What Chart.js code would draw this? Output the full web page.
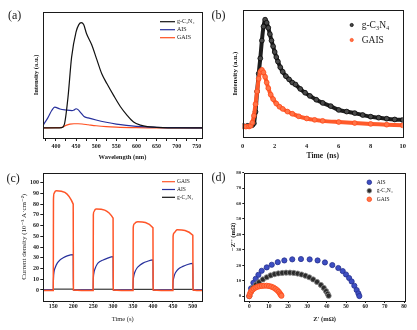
<!DOCTYPE html>
<html>
<head>
<meta charset="utf-8">
<script src="https://cdn.jsdelivr.net/npm/chart.js@4.4.0/dist/chart.umd.min.js"></script>
<style>
  html, body { margin: 0; padding: 0; background: #fff; }
  #wrap { position: relative; width: 417px; height: 330px; overflow: hidden; }
  canvas { position: absolute; left: 0; top: 0; }
</style>
</head>
<body>
<div id="wrap">
  <canvas id="chartA" width="417" height="330"></canvas>
  <canvas id="chartB" width="417" height="330"></canvas>
  <canvas id="chartC" width="417" height="330"></canvas>
  <canvas id="chartD" width="417" height="330"></canvas>
</div>
<script>
// (a) PL spectra: wavelength (nm) / intensity (a.u.)
const wlGCN = [370, 400, 415, 422, 430, 439, 450, 457, 463, 469, 476, 489, 502, 514, 527, 543, 560, 577, 593, 610, 627, 650, 700, 763];
const plGCN = [8, 8, 8.3, 12, 32, 64, 84, 90, 91.5, 90, 83, 74, 62, 51, 43, 34, 25, 18, 12.7, 10.2, 9, 8.5, 8, 8];
const wlAIS = [368, 380, 390, 397, 410, 425, 440, 445, 450, 455, 462, 470, 480, 500, 525, 550, 575, 600, 650, 700, 763];
const plAIS = [10, 16, 22, 24.5, 23, 22.2, 21.7, 22.2, 23.2, 22.5, 20, 17, 16, 14.3, 12.5, 11, 10, 9.3, 8.5, 8.2, 8];
const wlGAIS = [368, 400, 415, 425, 435, 445, 455, 465, 480, 500, 525, 550, 600, 650, 763];
const plGAIS = [8, 8.2, 8.5, 10, 11, 11.3, 11.3, 11.1, 10.5, 9.7, 9, 8.6, 8.2, 8, 8];
const wlTicks = [400, 450, 500, 550, 600, 650, 700, 750];
const wlMinor = [375, 425, 475, 525, 575, 625, 675, 725];

// (b) TRPL decay: time (ns) / intensity (a.u.)
const tGCN = [0, 0.3, 0.6, 0.7, 0.8, 0.9, 1.0, 1.1, 1.2, 1.3, 1.4, 1.5, 1.6, 1.7, 1.8, 1.9, 2.0, 2.1, 2.2, 2.35, 2.5, 2.7, 2.9, 3.1, 3.3, 3.6, 3.9, 4.2, 4.6, 5.0, 5.5, 6.0, 6.5, 7.0, 7.5, 8.0, 8.5, 9.0, 9.5, 10];
const trGCN = [9, 9, 9.5, 11, 20, 36, 50, 62, 76, 87, 92.4, 90, 86, 81, 76, 71.5, 67, 63, 59.5, 55, 51.5, 48, 45.5, 43, 41.5, 38, 35, 32.5, 29.5, 27, 24.5, 21.5, 20.2, 19, 17.5, 16.2, 15.4, 14.6, 14, 13.6];
const tGAIS = [0, 0.2, 0.4, 0.5, 0.6, 0.7, 0.8, 0.9, 1.0, 1.1, 1.2, 1.3, 1.4, 1.5, 1.6, 1.75, 1.9, 2.1, 2.3, 2.5, 2.8, 3.1, 3.5, 4.0, 4.5, 5.0, 6.0, 7.0, 8.0, 9.0, 10];
const trGAIS = [8.4, 8.4, 8.5, 9, 11.5, 17, 26, 36, 46, 51.5, 53, 51, 47.5, 43, 38.6, 33.5, 30, 26.5, 24, 22.3, 20.2, 18.5, 16.5, 14.8, 13.7, 12.9, 12, 11.2, 10.5, 9.9, 9.4];
const nsTicks = [0, 2, 4, 6, 8, 10];

// (c) photocurrent: time (s) / current density
const sGAIS = [125, 150, 150.5, 152, 155, 158, 200, 200.5, 250, 250.5, 252, 255, 258, 300, 300.5, 350, 350.5, 353, 357, 362, 400, 400.5, 450, 450.5, 453, 457, 461, 500, 500.5, 523];
const jGAIS = [-0.5, -0.5, 84, 90, 92, 92.5, 80, 0, -0.5, 70, 73, 75, 75.5, 67, 0, -0.5, 58, 61.5, 63, 63.5, 58, 0, -0.5, 50, 53, 55, 56, 51, 0, -0.5];
const sAIS = [125, 150, 150.5, 152, 155, 160, 167, 175, 185, 200, 200.5, 250, 250.5, 252, 255, 260, 267, 275, 285, 300, 300.5, 350, 350.5, 352, 355, 360, 367, 375, 385, 400, 400.5, 450, 450.5, 452, 455, 460, 467, 475, 485, 500, 500.5, 523];
const jAIS = [0, 0, 10, 17, 21, 25, 28, 30, 31.8, 33, 0, 0, 10, 16, 20, 24, 26.5, 28, 29.5, 31, 0, 0, 8, 13, 17, 20.5, 23, 25, 26.5, 28, 0, 0, 7, 11, 15, 18, 20.5, 22, 23.5, 24.8, 0, 0];
const sGCN = [125, 150, 150.5, 200, 200.5, 250, 250.5, 300, 300.5, 350, 350.5, 400, 400.5, 450, 450.5, 500, 500.5, 523];
const jGCN = [0, 0, 0.8, 0.8, 0, 0, 0.7, 0.7, 0, 0, 0.6, 0.6, 0, 0, 0.6, 0.6, 0, 0];
const secTicks = [150, 200, 250, 300, 350, 400, 450, 500];
const jTicks = [0, 10, 20, 30, 40, 50, 60, 70, 80, 90, 100];

// (d) Nyquist: Z' / -Z'' (mOhm)
const zrAIS = [0, 0.9, 2.1, 3.3, 4.7, 6.4, 9, 11.6, 14.7, 18.1, 22.2, 26.7, 31.2, 35.3, 39.1, 42.9, 46, 48.3, 50, 51.6, 52.9, 54.3, 55.5, 56.4, 56.9];
const ziAIS = [0, 5, 8.6, 11.2, 13.8, 16.4, 18.6, 20.3, 22, 23.1, 23.8, 24, 23.8, 23.1, 21.8, 20.1, 18.2, 16.2, 14, 11.7, 9.5, 6.7, 3.9, 1.7, 0];
const zrGCN = [0, 1, 2, 3.5, 5, 7, 9, 11, 13, 15, 17, 19, 21, 23, 25, 27, 29, 31, 33, 35, 37, 38.5, 39.7, 40.5, 41];
const ziGCN = [0, 3, 5.5, 7.5, 9, 10.8, 12.2, 13.4, 14.2, 14.7, 15, 15.2, 15.2, 15, 14.6, 14, 13.2, 12.2, 10.8, 9.2, 7.2, 5.3, 3.2, 1.5, 0.2];
const zrGAIS = [0, 0.3, 0.8, 1.5, 2.3, 3.2, 4.2, 5.3, 6.5, 7.7, 9, 10.2, 11.4, 12.5, 13.5, 14.4, 15.2, 15.8, 16.3, 16.6];
const ziGAIS = [0, 1.5, 2.8, 3.9, 4.8, 5.5, 6, 6.4, 6.6, 6.7, 6.7, 6.5, 6.1, 5.5, 4.7, 3.8, 2.8, 1.7, 0.8, 0.2];
const zTicks = [0, 10, 20, 30, 40, 50, 60, 70, 80];

const W = 417, H = 330;
const SERIF = "'Liberation Serif', 'DejaVu Serif', serif";
const INK = '#1a1a1a';
const BLUE = '#27309c';
const ORANGE = '#ff4f1f';
Chart.defaults.font.family = SERIF;
Chart.defaults.color = INK;

const pts = (xs, ys) => xs.map((x, i) => ({ x: x, y: ys[i] }));

// frame round the plot area
const framePlugin = {
  id: 'frame',
  afterDraw(chart) {
    const a = chart.chartArea, ctx = chart.ctx;
    ctx.save();
    ctx.strokeStyle = INK;
    ctx.lineWidth = 1;
    ctx.strokeRect(Math.round(a.left) + 0.5, Math.round(a.top) + 0.5,
      Math.round(a.right) - Math.round(a.left), Math.round(a.bottom) - Math.round(a.top));
    ctx.restore();
  }
};

// legend inside the plot, built from the datasets
const legendPlugin = {
  id: 'boxLegend',
  afterDraw(chart, args, o) {
    const ctx = chart.ctx;
    ctx.save();
    ctx.font = o.font;
    ctx.textBaseline = 'middle';
    ctx.textAlign = 'left';
    chart.data.datasets.forEach((ds, k) => {
      const y = o.y + k * o.gap;
      if (o.kind === 'line') {
        ctx.strokeStyle = ds.borderColor;
        ctx.lineWidth = 1.2;
        ctx.beginPath();
        ctx.moveTo(o.x, y);
        ctx.lineTo(o.x + o.len, y);
        ctx.stroke();
      } else {
        ctx.fillStyle = ds.pointBackgroundColor;
        ctx.strokeStyle = ds.pointBorderColor;
        ctx.lineWidth = 0.8;
        ctx.beginPath();
        ctx.arc(o.x, y, o.r, 0, Math.PI * 2);
        ctx.fill();
        ctx.stroke();
      }
      ctx.fillStyle = INK;
      ctx.fillText(ds.label, o.tx, y);
    });
    ctx.restore();
  }
};

// panel letter
const tagPlugin = {
  id: 'tag',
  afterDraw(chart, args, o) {
    const ctx = chart.ctx;
    ctx.save();
    ctx.font = '12px ' + SERIF;
    ctx.fillStyle = INK;
    ctx.textBaseline = 'middle';
    ctx.fillText(o.text, o.x, o.y);
    ctx.restore();
  }
};

const setTicks = list => scale => { scale.ticks = list.map(v => ({ value: v })); };

function panel(id, area, yW, xH, datasets, xOpt, yOpt, legend, tag) {
  return new Chart(document.getElementById(id), {
    type: 'scatter',
    data: { datasets: datasets },
    options: {
      responsive: false,
      animation: false,
      devicePixelRatio: 1,
      events: [],
      layout: {
        padding: { left: area.l - yW, top: area.t, right: W - area.r, bottom: H - area.b - xH }
      },
      scales: {
        x: Object.assign({ type: 'linear', position: 'bottom', border: { display: false },
          afterFit: s => { s.height = xH; } }, xOpt),
        y: Object.assign({ type: 'linear', position: 'left', border: { display: false },
          afterFit: s => { s.width = yW; } }, yOpt)
      },
      plugins: {
        legend: { display: false },
        tooltip: { enabled: false },
        boxLegend: legend,
        tag: tag
      }
    },
    plugins: [framePlugin, legendPlugin, tagPlugin]
  });
}

const tickMarks = len => ({ display: true, drawOnChartArea: false, drawTicks: true, tickLength: len, color: INK, tickColor: INK, lineWidth: 1 });
const noGrid = { display: false, drawTicks: false };
const lineSet = (label, xs, ys, color, w) => ({
  label: label, data: pts(xs, ys), showLine: true, borderColor: color, backgroundColor: color,
  borderWidth: w, pointRadius: 0, cubicInterpolationMode: 'monotone'
});

// (a)
panel('chartA', { l: 43, t: 12, r: 202, b: 138 }, 10.6, 22.9, [
  lineSet('g-C₃N₄', wlGCN, plGCN, '#111', 1.2),
  lineSet('AIS', wlAIS, plAIS, BLUE, 1.2),
  lineSet('GAIS', wlGAIS, plGAIS, ORANGE, 1.2)
], {
  min: 368, max: 763,
  afterBuildTicks: setTicks(wlTicks.concat(wlMinor).sort((p, q) => p - q)),
  grid: tickMarks(3),
  ticks: { autoSkip: false, maxRotation: 0, padding: 1.4, font: { size: 6, weight: 'bold' },
    callback: v => wlTicks.includes(v) ? String(v) : '' },
  title: { display: true, text: 'Wavelength (nm)', padding: 0, font: { size: 6.5, weight: 'bold' } }
}, {
  min: 0, max: 100,
  grid: noGrid,
  ticks: { display: false },
  title: { display: true, text: 'Intensity (a.u.)', padding: 0, font: { size: 6.5, weight: 'bold' } }
}, { kind: 'line', font: '6px ' + SERIF, x: 160, len: 15, tx: 177, y: 21.7, gap: 8 },
{ text: '(a)', x: 8, y: 15.5 });

// (b)
const trSet = (label, xs, ys, line, fill, edge, order) => ({
  label: label, data: pts(xs, ys), showLine: true, order: order,
  borderColor: line, borderWidth: 4, tension: 0.3,
  pointRadius: 2.4, pointBackgroundColor: fill, pointBorderColor: edge, pointBorderWidth: 0.8
});
panel('chartB', { l: 242.7, t: 10, r: 402.7, b: 137.3 }, 11.6, 23.2, [
  trSet('g-C₃N₄', tGCN, trGCN, '#1e1e1e', '#4a4a4a', '#0a0a0a', 1),
  trSet('GAIS', tGAIS, trGAIS, '#ff5a2a', '#ff7448', '#ff4a1a', 0)
], {
  min: 0, max: 10,
  afterBuildTicks: setTicks(nsTicks),
  grid: noGrid,
  ticks: { autoSkip: false, maxRotation: 0, padding: 5.1, font: { size: 6.5, weight: 'bold' } },
  title: { display: true, text: 'Time  (ns)', padding: 0, font: { size: 7.5, weight: 'bold' } }
}, {
  min: 0, max: 100,
  grid: noGrid,
  ticks: { display: false },
  title: { display: true, text: 'Intensity (a.u.)', padding: 0, font: { size: 7, weight: 'bold' } }
}, { kind: 'dot', font: '9.5px ' + SERIF, x: 351.7, r: 1.6, tx: 361.7, y: 25, gap: 15 },
{ text: '(b)', x: 211.5, y: 15.5 });

// (c)
const pcGAIS = lineSet('GAIS', sGAIS, jGAIS, '#ff5528', 1.5); pcGAIS.order = 0;
const pcAIS = lineSet('AIS', sAIS, jAIS, BLUE, 1.2); pcAIS.order = 1;
const pcGCN = lineSet('g-C₃N₄', sGCN, jGCN, '#111', 1); pcGCN.order = 2;
panel('chartC', { l: 43.3, t: 173, r: 202, b: 300.7 }, 23.3, 22.2, [pcGAIS, pcAIS, pcGCN], {
  min: 125, max: 523,
  afterBuildTicks: setTicks(secTicks),
  grid: tickMarks(2),
  ticks: { autoSkip: false, maxRotation: 0, padding: 0.5, font: { size: 6, weight: 'bold' } },
  title: { display: true, text: 'Time (s)', padding: 0, font: { size: 6.5 } }
}, {
  min: -10, max: 109,
  afterBuildTicks: setTicks(jTicks),
  grid: tickMarks(3),
  ticks: { autoSkip: false, padding: 1.3, font: { size: 6, weight: 'bold' } },
  title: { display: true, text: 'Current density (10⁻³ A·cm⁻²)', padding: 0, font: { size: 7 } }
}, { kind: 'line', font: '5.5px ' + SERIF, x: 162, len: 13, tx: 177, y: 181.7, gap: 7.8 },
{ text: '(c)', x: 6.5, y: 178.7 });

// (d)
const nySet = (label, xs, ys, fill, edge, order) => ({
  label: label, data: pts(xs, ys), order: order,
  pointRadius: 2.6, pointBackgroundColor: fill, pointBorderColor: edge, pointBorderWidth: 0.8
});
panel('chartD', { l: 244.3, t: 172.7, r: 405, b: 301 }, 14.5, 21.9, [
  nySet('AIS', zrAIS, ziAIS, '#3d4ec2', '#27318f', 2),
  nySet('g-C₃N₄', zrGCN, ziGCN, '#2b2b2b', '#8a8a8a', 1),
  nySet('GAIS', zrGAIS, ziGAIS, '#ff7448', '#ff4a1a', 0)
], {
  min: -2.6, max: 80.5,
  afterBuildTicks: setTicks(zTicks),
  grid: tickMarks(2),
  ticks: { autoSkip: false, maxRotation: 0, padding: 0, font: { size: 5.5, weight: 'bold' } },
  title: { display: true, text: "Z' (mΩ)", padding: 0, font: { size: 6.5, weight: 'bold' } }
}, {
  min: -3.2, max: 80,
  afterBuildTicks: setTicks(zTicks),
  grid: tickMarks(2),
  ticks: { autoSkip: false, padding: 1, font: { size: 5, weight: 'bold' } },
  title: { display: true, text: "−Z'' (mΩ)", padding: 0, font: { size: 6.5, weight: 'bold' } }
}, { kind: 'dot', font: '5.5px ' + SERIF, x: 369.3, r: 2.3, tx: 376.7, y: 182.3, gap: 8.5 },
{ text: '(d)', x: 211.5, y: 178 });
</script>
</body>
</html>
